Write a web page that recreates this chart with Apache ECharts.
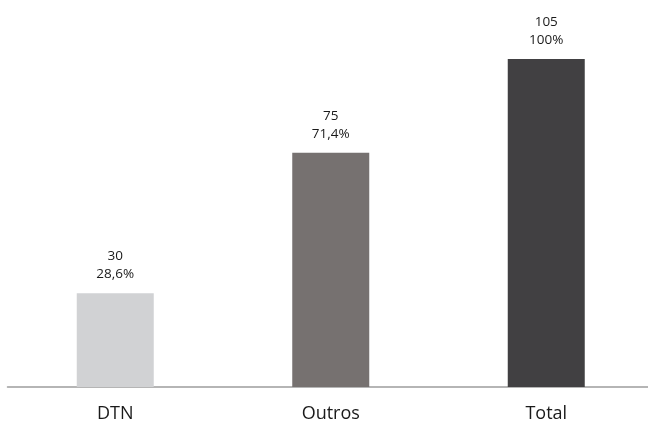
<!DOCTYPE html>
<html><head><meta charset="utf-8">
<script src="https://cdn.jsdelivr.net/npm/echarts@6/dist/echarts.min.js"></script>
<style>html,body{margin:0;padding:0;background:#fff}#c{width:648px;height:427px}</style>
</head><body><div id="c"></div>
<script>
const categories = ['DTN', 'Outros', 'Total'];
const values = [30, 75, 105];
const percents = ['28,6%', '71,4%', '100%'];
const colors = ['#d1d2d4', '#767170', '#414042'];

const chart = echarts.init(document.getElementById('c'));
chart.setOption({
  animation: false,
  grid: { left: 7.5, width: 646.5, top: 59, bottom: 40, outerBoundsMode: 'none', containLabel: false },
  xAxis: {
    type: 'category', data: categories,
    axisLine: { lineStyle: { color: '#9d9d9d', width: 1.5 } },
    axisTick: { show: false },
    axisLabel: { color: '#1a1a1a', fontSize: 18, fontFamily: 'Open Sans', margin: 18 }
  },
  yAxis: { type: 'value', min: 0, max: 105, show: false, splitLine: { show: false } },
  series: [{
    type: 'bar', barWidth: 77,
    data: values.map((v, i) => ({ value: v, itemStyle: { color: colors[i] } })),
    label: {
      show: true, position: 'top', distance: 10,
      color: '#1a1a1a', fontSize: 13.5, fontFamily: 'Open Sans', lineHeight: 18,
      formatter: p => p.value + '\n' + percents[p.dataIndex]
    }
  }]
});
</script></body></html>
